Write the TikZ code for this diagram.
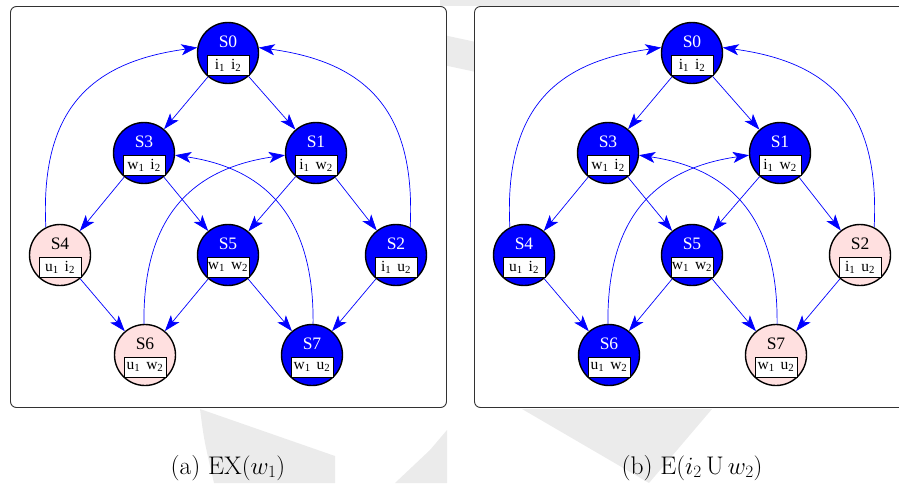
\documentclass[tikz,border=0pt]{standalone}
\usepackage{fontspec}
\newfontfamily\tms{Liberation Serif}
\usetikzlibrary{arrows.meta}

\definecolor{satblue}{RGB}{0,0,255}
\definecolor{plainpink}{RGB}{255,224,224}
\definecolor{wmgrey}{RGB}{235,235,235}
\definecolor{framegrey}{RGB}{50,50,50}

% proposition with index, as printed in the state boxes
\newcommand\apv[2]{#1\textsubscript{#2}}

% one state: circle, its name, and the box of propositions
% #1 node name, #2 printed name, #3 x, #4 y, #5 sat/plain, #6 box text
\newcommand\statenode[6]{%
  \node[#5state] (#1) at (#3,#4) {};
  \node[#5label] (#1-name) at (#3,#4-11) {#2};
  \node[propbox] (#1-box) at (#3,#4+12) {#6};
}

% one panel of the state graph, #1 prefix, #2 x offset,
% #3 kind of S4 and S6, #4 kind of S2 and S7
\newcommand\drawpanel[4]{%
  \begin{scope}[shift={(#2,0)}]
    \draw[panelframe] (10.5,6.5) rectangle (446.5,407.5);
    \statenode{#1S0}{S0}{228}{53}{sat}{\apv{i}{1}\hspace{6pt}\apv{i}{2}}
    \statenode{#1S3}{S3}{144}{153}{sat}{\apv{w}{1}\hspace{6pt}\apv{i}{2}}
    \statenode{#1S1}{S1}{316}{153}{sat}{\apv{i}{1}\hspace{6pt}\apv{w}{2}}
    \statenode{#1S4}{S4}{60}{255}{#3}{\apv{u}{1}\hspace{6pt}\apv{i}{2}}
    \statenode{#1S5}{S5}{228}{255}{sat}{\apv{w}{1}\hspace{6pt}\apv{w}{2}}
    \statenode{#1S2}{S2}{396}{255}{#4}{\apv{i}{1}\hspace{6pt}\apv{u}{2}}
    \statenode{#1S6}{S6}{145}{355}{#3}{\apv{u}{1}\hspace{6pt}\apv{w}{2}}
    \statenode{#1S7}{S7}{312}{355}{#4}{\apv{w}{1}\hspace{6pt}\apv{u}{2}}
    \draw[trans] (#1S0) -- (#1S3);
    \draw[trans] (#1S0) -- (#1S1);
    \draw[trans] (#1S3) -- (#1S4);
    \draw[trans] (#1S3) -- (#1S5);
    \draw[trans] (#1S1) -- (#1S5);
    \draw[trans] (#1S1) -- (#1S2);
    \draw[trans] (#1S4) -- (#1S6);
    \draw[trans] (#1S5) -- (#1S6);
    \draw[trans] (#1S5) -- (#1S7);
    \draw[trans] (#1S2) -- (#1S7);
    \draw[trans] (#1S4.117) .. controls (40,110) and (90,62) .. (#1S0.170);
    \draw[trans] (#1S2.63) .. controls (416,110) and (366,62) .. (#1S0.10);
    \draw[trans] (#1S6.92) .. controls (143,230) and (180,170) .. (#1S1.184);
    \draw[trans] (#1S7.88) .. controls (314,230) and (277,170) .. (#1S3.356);
  \end{scope}
}

\begin{document}
\begin{tikzpicture}[x=1pt,y=-1pt,
  state/.style={circle,draw=black,line width=1.4pt,minimum size=61pt,inner sep=0pt},
  satstate/.style={state,fill=satblue},
  plainstate/.style={state,fill=plainpink},
  satlabel/.style={font=\tms\fontsize{17.5}{19}\selectfont,text=white,inner sep=0pt},
  plainlabel/.style={font=\tms\fontsize{17.5}{19}\selectfont,text=black,inner sep=0pt},
  propbox/.style={draw=black,fill=white,line width=0.8pt,minimum width=42pt,
    minimum height=20pt,inner sep=0pt,font=\tms\fontsize{15.5}{17}\selectfont},
  trans/.style={draw=satblue,line width=0.7pt,
    -{Stealth[length=16pt,width=11pt,inset=4pt]}},
  panelframe/.style={draw=framegrey,line width=0.9pt,fill=white,rounded corners=6pt},
  caption/.style={font=\fontsize{25.5}{30}\selectfont,anchor=base}]
  \useasboundingbox (0,0) rectangle (899,483);
  \clip (0,0) rectangle (899,483);

  % light watermark strokes behind the panels
  \fill[wmgrey] (440,0) -- (640,0) -- (640,6) -- (440,6) -- cycle;
  \fill[wmgrey] (420,30) -- (490,45) -- (490,75) -- (420,60) -- cycle;
  \fill[wmgrey] (200,409) .. controls (204,440) .. (214,483) -- (335,483) -- (335,456) -- cycle;
  \fill[wmgrey] (430,450) -- (447,430) -- (447,483) -- (395,483) -- cycle;
  \fill[wmgrey] (522,409) -- (712,409) -- (649,483) -- cycle;

  \drawpanel{a}{0}{plain}{sat}
  \drawpanel{b}{464}{sat}{plain}

  \node[caption] (capa) at (228,474) {(a) $\mathrm{EX}(w_1)$};
  \node[caption] (capb) at (692,474) {(b) $\mathrm{E}(i_2\,\mathrm{U}\,w_2)$};
\end{tikzpicture}
\end{document}
